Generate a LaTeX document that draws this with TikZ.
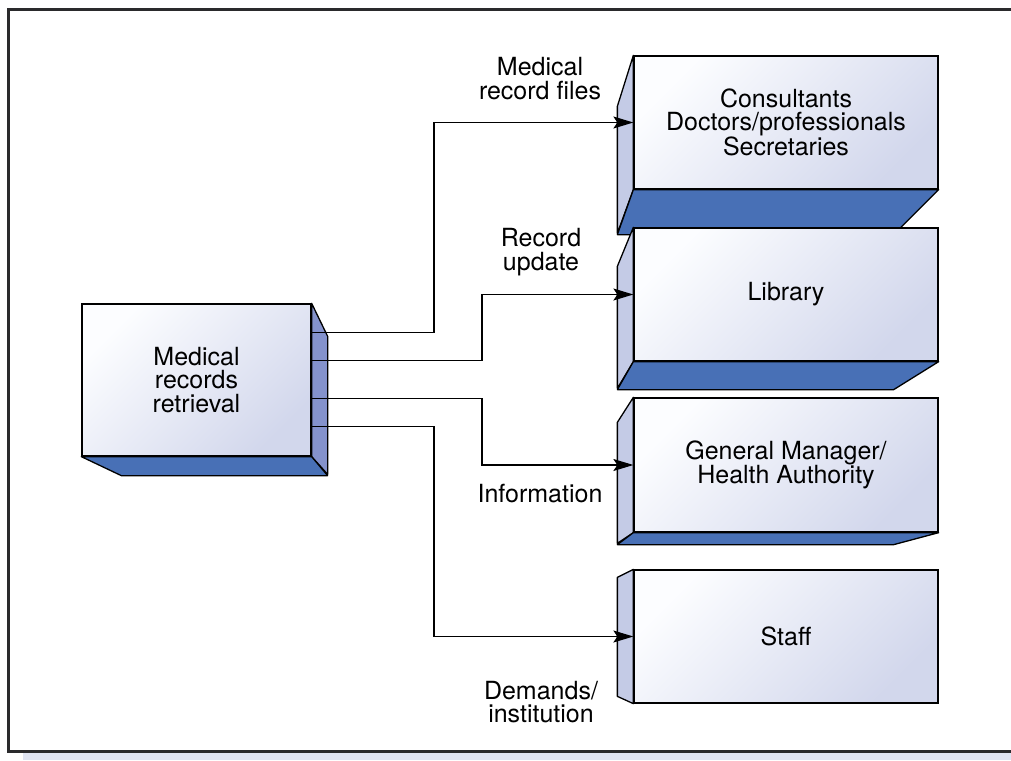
\documentclass[tikz,border=0pt]{standalone}
\usepackage{fontspec}
\setmainfont{TeX Gyre Heros}
\usetikzlibrary{arrows.meta,calc}
\definecolor{frontA}{RGB}{252,253,255}
\definecolor{frontB}{RGB}{210,215,236}
\definecolor{sideL}{RGB}{196,203,230}
\definecolor{sideR}{RGB}{132,146,204}
\definecolor{bottomF}{RGB}{72,112,182}
\definecolor{frameC}{RGB}{42,42,44}
\definecolor{stripC}{RGB}{224,228,242}
\begin{document}
\begin{tikzpicture}[x=1pt,y=-1pt,
  txt/.style={font=\fontsize{25}{23.3}\selectfont, align=center},
  lbl/.style={txt, inner sep=0pt},
  face/.style={txt, draw=black, line width=1.3pt, top color=frontA, bottom color=frontB, shading angle=45, inner sep=0pt},
  sidel/.style={fill=sideL, draw=black, line width=1.3pt, line join=round},
  sider/.style={fill=sideR, draw=black, line width=1.3pt, line join=round},
  bottomface/.style={fill=bottomF, draw=black, line width=1.3pt, line join=round},
  conn/.style={draw=black, line width=1.2pt, -{Stealth[length=20pt, width=12pt, inset=4pt]}}
]
\useasboundingbox (0,0) rectangle (1011,760);
% frame
\fill[stripC] (23,753) rectangle (1011,760);
\draw[line width=3pt, frameC] (1011,10) -- (8,10) -- (8,751) -- (1011,751);

% left box
\node[face, minimum width=229pt, minimum height=152pt] (mrr) at (196.5,380) {Medical\\records\\retrieval};
\filldraw[sider] (mrr.north east) -- ++(16,33) -- ++(0,138) -- (mrr.south east) -- cycle;
\filldraw[bottomface] (mrr.south west) -- (mrr.south east) -- ++(16,19) -- ($(mrr.south west)+(40,19)$) -- cycle;

% right boxes
\node[face, minimum width=304pt, minimum height=133pt] (cons) at (786,122.5) {Consultants\\Doctors/professionals\\Secretaries};
\filldraw[sidel] (cons.north west) -- ++(-16,51) -- ++(0,127) -- (cons.south west) -- cycle;
\filldraw[bottomface] (cons.south west) -- (cons.south east) -- ++(-45,45) -- ($(cons.south west)+(-16,45)$) -- cycle;

\node[face, minimum width=304pt, minimum height=133pt] (lib) at (786,294.5) {Library};
\filldraw[sidel] (lib.north west) -- ++(-16,39) -- ++(0,122) -- (lib.south west) -- cycle;
\filldraw[bottomface] (lib.south west) -- (lib.south east) -- ++(-45,28) -- ($(lib.south west)+(-16,28)$) -- cycle;

\node[face, minimum width=304pt, minimum height=134pt] (gm) at (786,465) {General Manager/\\Health Authority};
\filldraw[sidel] (gm.north west) -- ++(-16,25) -- ++(0,121) -- (gm.south west) -- cycle;
\filldraw[bottomface] (gm.south west) -- (gm.south east) -- ++(-45,12) -- ($(gm.south west)+(-16,12)$) -- cycle;

\node[face, minimum width=304pt, minimum height=133pt] (staff) at (786,636.5) {Staff};
\filldraw[sidel] (staff.north west) -- ++(-16,8) -- ++(0,119) -- (staff.south west) -- cycle;

% connectors
\coordinate (j1) at (434,0);
\coordinate (j2) at (482,0);
\coordinate (s1) at ($(mrr.north east)+(0,29)$);
\coordinate (s2) at ($(mrr.north east)+(0,57)$);
\coordinate (s3) at ($(mrr.north east)+(0,95)$);
\coordinate (s4) at ($(mrr.north east)+(0,123)$);
\draw[conn] (s1) -- (s1 -| j1) |- (cons.west);
\draw[conn] (s2) -- (s2 -| j2) |- (lib.west);
\draw[conn] (s3) -- (s3 -| j2) |- (gm.west);
\draw[conn] (s4) -- (s4 -| j1) |- (staff.west);

% labels
\node[lbl] (l1) at (540,78.5) {Medical\\record files};
\node[lbl] (l2) at (541,252) {Record\\update};
\node[lbl] (l3) at (540,494) {Information};
\node[lbl] (l4) at (541,702) {Demands/\\institution};
\end{tikzpicture}
\end{document}
